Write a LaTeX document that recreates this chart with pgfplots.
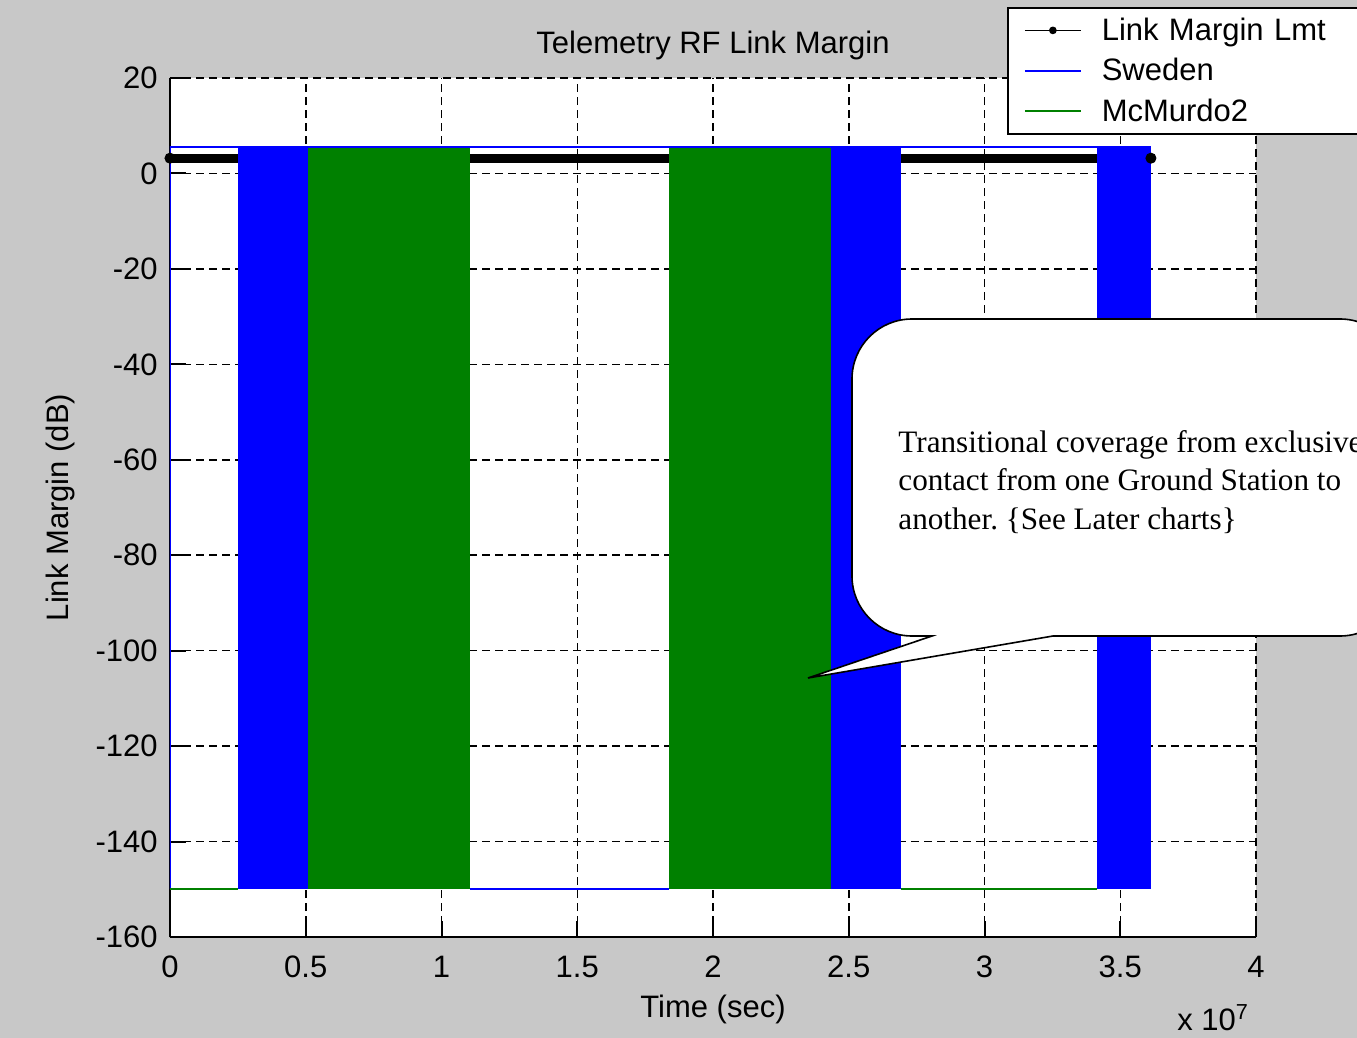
\documentclass[border=0pt]{standalone}
\usepackage{fontspec}
\setmainfont{Liberation Sans}
\newfontfamily\timesfont{Liberation Serif}
\usepackage{pgfplots}
\pgfplotsset{compat=1.18}
\definecolor{figbg}{RGB}{200,200,200}
\definecolor{mblue}{RGB}{0,0,255}
\definecolor{mgreen}{RGB}{0,128,0}
\newcommand\fs{\fontsize{15.5}{18}\selectfont}

\begin{document}
\begin{tikzpicture}
\useasboundingbox (0pt,0pt) rectangle (678.5pt,-519pt);
\clip (0pt,0pt) rectangle (678.5pt,-519pt);
\fill[figbg] (0pt,0pt) rectangle (678.5pt,-519pt);
\begin{axis}[
  at={(85pt,-468.5pt)}, anchor=south west,
  scale only axis, width=543pt, height=429.5pt,
  xmin=0, xmax=4, ymin=-160, ymax=20,
  xtick={0,0.5,1,1.5,2,2.5,3,3.5,4},
  xticklabels={0,0.5,1,1.5,2,2.5,3,3.5,4},
  ytick={-160,-140,-120,-100,-80,-60,-40,-20,0,20},
  yticklabels={-160,-140,-120,-100,-80,-60,-40,-20,0,20},
  axis x line=bottom, axis y line=left,
  axis line style={-, black, line width=1pt},
  axis background/.style={fill=white},
  tick align=inside, major tick length=8pt,
  tick style={black, line width=1pt},
  grid=major,
  major grid style={black, line width=0.75pt, dash pattern=on 4pt off 2.5pt},
  tick label style={font=\fs},
  x tick label style={anchor=base, yshift=-20pt},
  y tick label style={anchor=east, inner sep=0pt, xshift=-6pt},
  title={Telemetry RF Link Margin},
  title style={font=\fs, at={(axis description cs:0.5,1)}, anchor=base, yshift=6pt},
  xlabel={Time (sec)},
  xlabel style={font=\fs, at={(axis description cs:0.5,0)}, anchor=base, yshift=-40pt},
  ylabel={Link Margin (dB)},
  ylabel style={font=\fs, at={(axis description cs:-0.0939,0.5)}, anchor=base},
  legend style={font=\fs, at={(0.7707,0.9336)}, anchor=south west,
    line width=1pt, fill=white, row sep=3.5pt, column sep=8pt,
    inner xsep=8pt, inner ysep=3pt,
    nodes={text width=140pt, align=left, inner sep=2pt}},
  legend cell align=left,
  legend image code/.code={\draw[mark repeat=2,mark phase=2,#1] plot coordinates {(0pt,0pt) (14pt,0pt) (28pt,0pt)};},
]
\addlegendimage{draw=black, line width=0.8pt, mark=*, mark size=1.5pt, mark options={fill=black}}
\addlegendimage{draw=mblue, line width=0.9pt}
\addlegendimage{draw=mgreen, line width=0.9pt}
\legend{Link Margin Lmt, Sweden, McMurdo2}

% link margin limit
\addplot[forget plot, black, line width=4.5pt, mark=*, mark size=2.5pt, mark options={line width=0.5pt}]
  coordinates {(0,3.2) (3.613,3.2)};
% Sweden outline
\addplot[forget plot, mblue, line width=1pt] coordinates {(0,-150) (0,5.5) (3.613,5.5)};
\addplot[forget plot, mblue, line width=1pt] coordinates {(1.105,-150) (1.838,-150)};
% McMurdo2 floor
\addplot[forget plot, mgreen, line width=1pt] coordinates {(0,-150) (0.25,-150)};
\addplot[forget plot, mgreen, line width=1pt] coordinates {(2.692,-150) (3.414,-150)};
% Sweden contact bands
\addplot[forget plot, fill=mblue, draw=none] coordinates {(0.25,-150) (0.25,5.5) (0.508,5.5) (0.508,-150)} -- cycle;
\addplot[forget plot, fill=mblue, draw=none] coordinates {(2.435,-150) (2.435,5.5) (2.692,5.5) (2.692,-150)} -- cycle;
\addplot[forget plot, fill=mblue, draw=none] coordinates {(3.414,-150) (3.414,5.5) (3.613,5.5) (3.613,-150)} -- cycle;
% McMurdo2 contact bands
\addplot[forget plot, fill=mgreen, draw=none] coordinates {(0.508,-150) (0.508,5.3) (1.105,5.3) (1.105,-150)} -- cycle;
\addplot[forget plot, fill=mgreen, draw=none] coordinates {(1.838,-150) (1.838,5.3) (2.435,5.3) (2.435,-150)} -- cycle;
\end{axis}
\node[font=\fs, anchor=base east] at (628pt,-515pt) {x 10\textsuperscript{7}};
\begin{scope}[x=0.5pt, y=-0.5pt]
\draw[fill=white, line width=0.8pt] (932,636) [sharp corners] -- (808,678) -- (1053,636)
  [rounded corners=30pt] -- (1400,636) -- (1400,319) -- (852,319) -- (852,636) [sharp corners] -- cycle;
\begin{scope}[every node/.style={anchor=base west, inner sep=0pt, font=\timesfont\fontsize{15.6}{18}\selectfont}]
\node at (898,452) {Transitional coverage from exclusive};
\node at (898,490) {contact from one Ground Station to};
\node at (898,529) {another.\ \{See Later charts\}};
\end{scope}
\end{scope}
\end{tikzpicture}
\end{document}
